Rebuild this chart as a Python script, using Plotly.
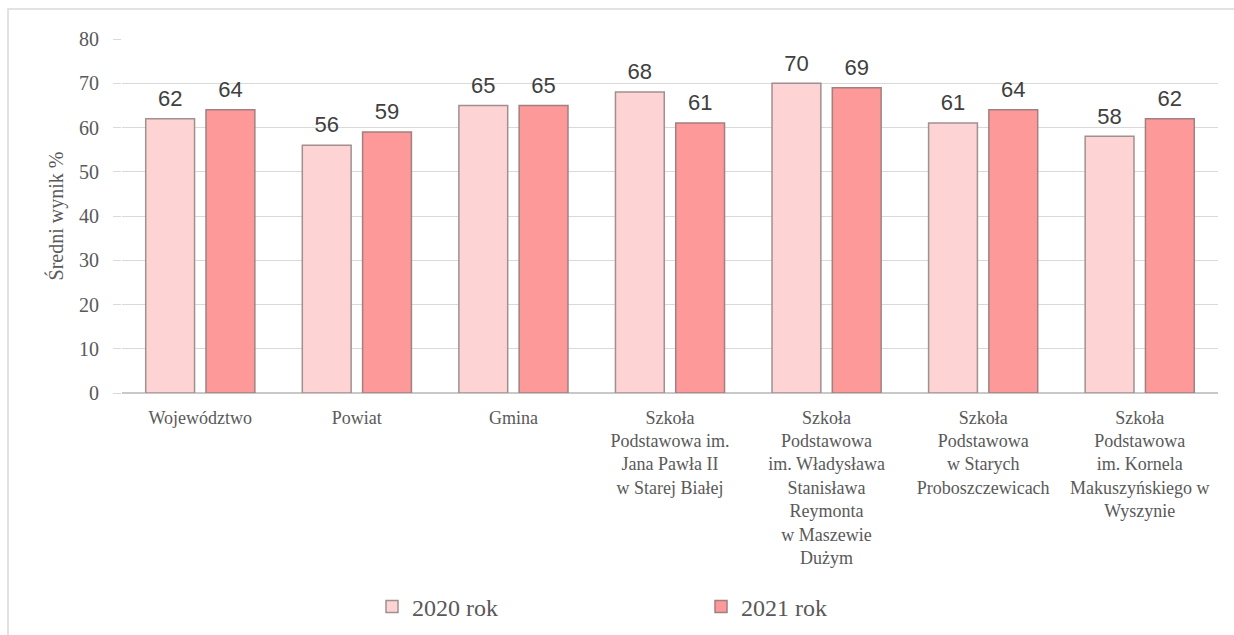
import plotly.graph_objects as go

categories = [
    "Województwo",
    "Powiat",
    "Gmina",
    "Szkoła<br>Podstawowa im.<br>Jana Pawła II<br>w Starej Białej",
    "Szkoła<br>Podstawowa<br>im. Władysława<br>Stanisława<br>Reymonta<br>w Maszewie<br>Dużym",
    "Szkoła<br>Podstawowa<br>w Starych<br>Proboszczewicach",
    "Szkoła<br>Podstawowa<br>im. Kornela<br>Makuszyńskiego w<br>Wyszynie",
]
values_2020 = [62, 56, 65, 68, 70, 61, 58]
values_2021 = [64, 59, 65, 61, 69, 64, 62]
series_names = ["2020 rok", "2021 rok"]

W, H = 1234, 635
ml, mr, mt, mb = 122, 16, 39, 242
pw = W - ml - mr
ph = H - mt - mb

SERIF = "Liberation Serif"
LABEL_FONT = dict(family="Liberation Sans", size=22, color="#404040")

fig = go.Figure()
series = [
    (series_names[0], values_2020, "#FDD3D3", "#A09090", "g1"),
    (series_names[1], values_2021, "#FD9999", "#A08080", "g2"),
]
for name, vals, fill, edge, grp in series:
    fig.add_trace(go.Bar(
        x=categories, y=vals, name=name, offsetgroup=grp,
        marker=dict(color=fill, line=dict(color=edge, width=1.5)),
    ))
for name, vals, fill, edge, grp in series:
    fig.add_trace(go.Scatter(
        x=categories, y=vals, mode="markers+text", offsetgroup=grp,
        text=[str(v) for v in vals], textposition="top center",
        textfont=LABEL_FONT, cliponaxis=False,
        marker=dict(size=10, opacity=0), showlegend=False, hoverinfo="skip",
    ))

# outer chart frame (light grey), starting near the top-left corner
fig.add_shape(type="rect", xref="paper", yref="paper",
              x0=(8 - ml) / pw, x1=(1250 - ml) / pw,
              y0=(H - mb - 650) / ph, y1=(H - mb - 9) / ph,
              line=dict(color="#D9D9D9", width=1.5), layer="below")

fig.update_layout(
    width=W, height=H,
    margin=dict(l=ml, r=mr, t=mt, b=mb, autoexpand=False),
    paper_bgcolor="white", plot_bgcolor="white",
    barmode="group", bargap=0.23, bargroupgap=0.19,
    scattermode="group", scattergap=0.23,
    font=dict(family=SERIF, color="#595959"),
    showlegend=True,
    legend=dict(orientation="h", x=(372 - ml) / pw, xanchor="left",
                y=(H - mb - 607) / ph, yanchor="middle",
                font=dict(family=SERIF, size=24, color="#595959"),
                itemwidth=30, entrywidth=284, entrywidthmode="pixels",
                traceorder="normal"),
)
fig.update_yaxes(
    range=[0, 80], dtick=10, showgrid=True, gridcolor="#D9D9D9", gridwidth=1,
    zeroline=True, zerolinecolor="#C8C8C8",
    tickfont=dict(family=SERIF, size=20, color="#595959"),
    ticks="outside", ticklen=8, tickcolor="#D9D9D9", ticklabelstandoff=10,
    title=dict(text="Średni wynik %", font=dict(family=SERIF, size=20, color="#595959"), standoff=10),
)
fig.update_xaxes(
    tickfont=dict(family=SERIF, size=18, color="#595959"), tickangle=0,
    showline=True, linecolor="#C8C8C8", ticks="", ticklabelstandoff=8,
)
fig.write_html("out.html", config={"displayModeBar": False},
               post_script="document.body.style.margin='0';")
